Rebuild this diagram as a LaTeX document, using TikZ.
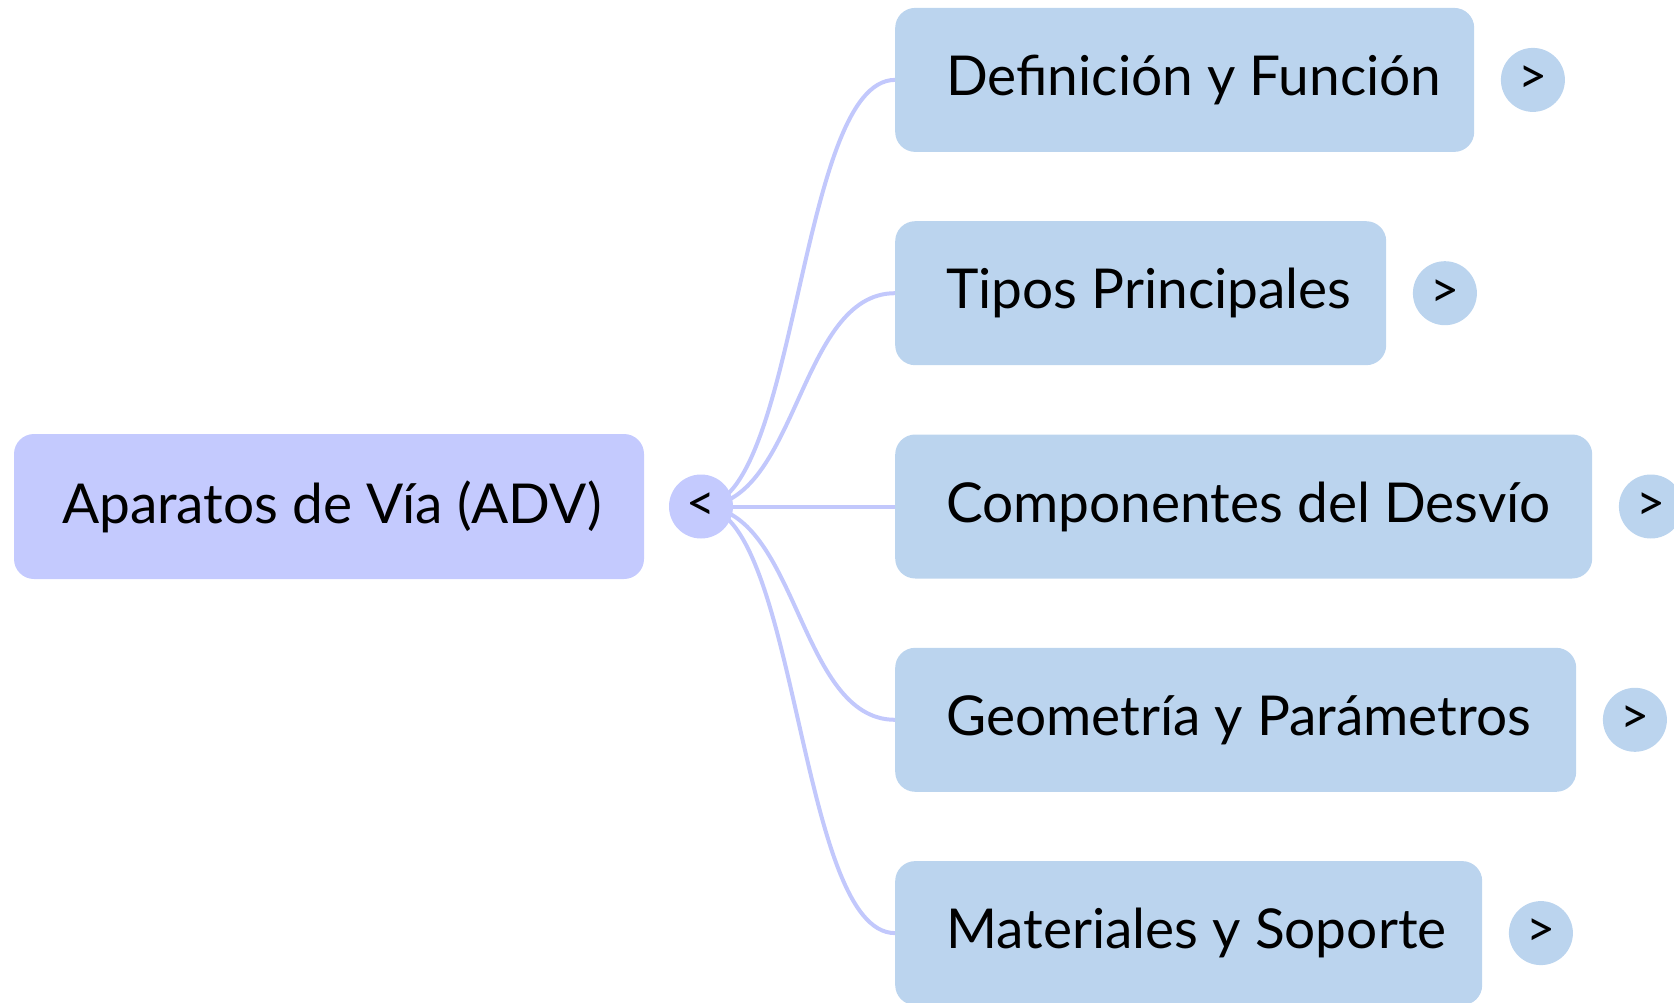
\documentclass[tikz,border=0pt]{standalone}
\usepackage{fontspec}
\setmainfont{Lato}
\usetikzlibrary{backgrounds,calc}
\definecolor{rootfill}{HTML}{C4CAFE}
\definecolor{childfill}{HTML}{BBD4EE}
\definecolor{linkcol}{HTML}{C2C8FC}
\newcommand{\lbl}[2]{\makebox[#1][l]{#2}}
\tikzset{
  rootbox/.style={draw=none,fill=rootfill,rounded corners=20pt,minimum height=145pt,inner ysep=0pt,inner xsep=48pt,font=\fontsize{55}{60}\selectfont,text=black},
  childbox/.style={draw=none,fill=childfill,rounded corners=20pt,minimum height=144pt,inner ysep=0pt,inner xsep=51pt,anchor=west,font=\fontsize{55}{60}\selectfont,text=black},
  rootknob/.style={circle,draw=none,fill=rootfill,minimum size=64pt,inner sep=0pt,font=\fontsize{50}{52}\selectfont},
  childknob/.style={circle,draw=none,fill=childfill,minimum size=64pt,inner sep=0pt,font=\fontsize{50}{52}\selectfont},
  link/.style={draw=linkcol,line width=4pt}
}
\begin{document}
\begin{tikzpicture}[x=1pt,y=-1pt]
\useasboundingbox (0,0) rectangle (1674,1003);
\node[rootbox] (root) at (329,506.5) {\lbl{534pt}{Aparatos de Vía (ADV)}};
\node[rootknob] (c0) at (701,506.5) {<};
\node[childbox] (b1) at (895,79.9) {\lbl{477pt}{Definición y Función}};
\node[childbox] (b2) at (895,293.2) {\lbl{389pt}{Tipos Principales}};
\node[childbox] (b3) at (895,506.5) {\lbl{595pt}{Componentes del Desvío}};
\node[childbox] (b4) at (895,719.8) {\lbl{579pt}{Geometría y Parámetros}};
\node[childbox] (b5) at (895,933.1) {\lbl{485pt}{Materiales y Soporte}};
\node[childknob] (k1) at ($(b1.east)+(58.5,0)$) {>};
\node[childknob] (k2) at ($(b2.east)+(58.5,0)$) {>};
\node[childknob] (k3) at ($(b3.east)+(58.5,0)$) {>};
\node[childknob] (k4) at ($(b4.east)+(58.5,0)$) {>};
\node[childknob] (k5) at ($(b5.east)+(58.5,0)$) {>};
\begin{scope}[on background layer]
\foreach \b in {b1,b2,b3,b4,b5}{
  \draw[link] (c0.center) .. controls ($(c0.center)+(97,0)$) and ($(\b.west)-(97,0)$) .. (\b.west);
}
\end{scope}
\end{tikzpicture}
\end{document}
